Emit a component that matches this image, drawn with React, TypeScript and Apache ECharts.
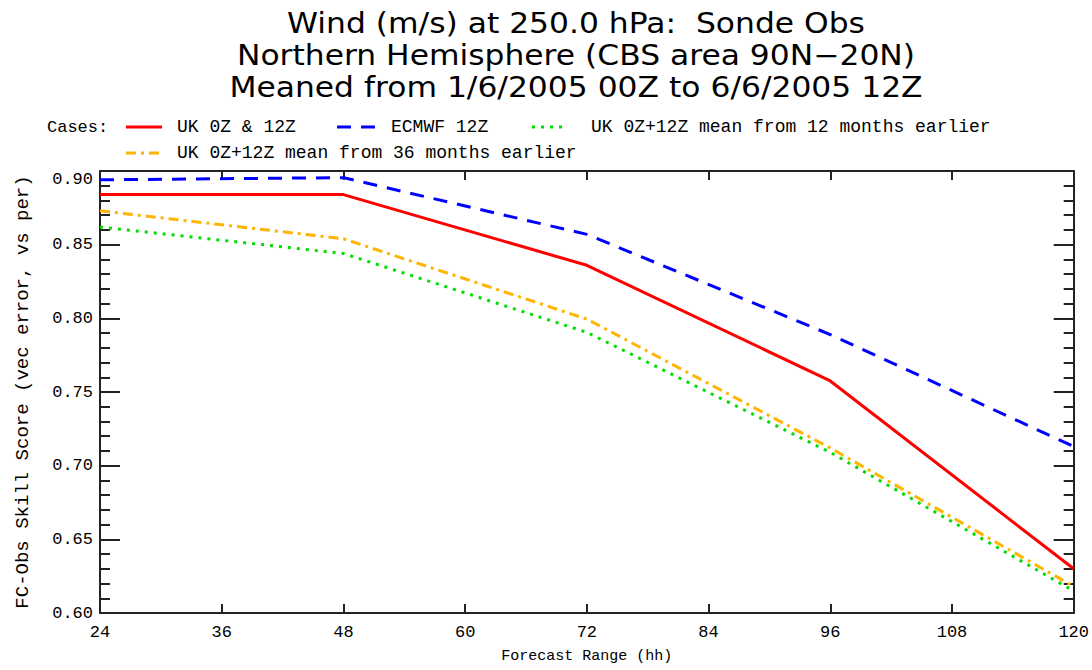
import React, { useEffect, useRef } from "react";
import * as echarts from "echarts";

const forecastHours = [24, 48, 72, 96, 120];
const ukOper = [0.884, 0.884, 0.836, 0.7575, 0.63];
const ecmwf = [0.894, 0.8955, 0.857, 0.789, 0.713];
const uk12MonthsEarlier = [0.862, 0.844, 0.7905, 0.709, 0.615];
const uk36MonthsEarlier = [0.873, 0.854, 0.7995, 0.712, 0.618];

const seriesNames = [
  "UK 0Z & 12Z",
  "ECMWF 12Z",
  "UK 0Z+12Z mean from 12 months earlier",
  "UK 0Z+12Z mean from 36 months earlier",
];
const seriesValues = [ukOper, ecmwf, uk12MonthsEarlier, uk36MonthsEarlier];
const seriesColors = ["#ff0000", "#0000ff", "#00dd00", "#ffb400"];
const seriesDashes: (number[] | "solid")[] = ["solid", [14, 10], [3, 6], [10, 5, 3, 5]];

const titleLines = [
  "Wind (m/s) at 250.0 hPa:  Sonde Obs",
  "Northern Hemisphere (CBS area 90N\u221220N)",
  "Meaned from 1/6/2005 00Z to 6/6/2005 12Z",
];

const MONO = "'Liberation Mono', 'DejaVu Sans Mono', monospace";
const SANS = "'DejaVu Sans', 'Liberation Sans', sans-serif";

// layout positions only
const titleY = [23, 55, 87];
const legendSample = [
  { x1: 126, x2: 162, y: 127, tx: 177 },
  { x1: 337, x2: 375, y: 127, tx: 391 },
  { x1: 532, x2: 566, y: 127, tx: 591 },
  { x1: 126, x2: 162, y: 153, tx: 177 },
];

export default function App() {
  const ref = useRef<HTMLDivElement>(null);
  useEffect(() => {
    if (!ref.current) return;
    const chart = echarts.init(ref.current, undefined, { renderer: "svg" });
    const axisLine = { show: true, lineStyle: { color: "#222", width: 2 } };
    const graphics: any[] = titleLines.map((t, i) => ({
      type: "text",
      x: 576,
      y: titleY[i],
      scaleX: 1.12,
      style: {
        text: t,
        x: 0,
        y: 0,
        textAlign: "center",
        textVerticalAlign: "middle",
        font: `normal 28px ${SANS}`,
        fill: "#000",
      },
    }));
    graphics.push({
      type: "text",
      style: {
        text: "Cases:",
        x: 47,
        y: 127,
        textVerticalAlign: "middle",
        font: `normal 17px ${MONO}`,
        fill: "#000",
      },
    });
    seriesNames.forEach((name, i) => {
      const p = legendSample[i];
      graphics.push({
        type: "line",
        shape: { x1: p.x1, y1: p.y, x2: p.x2, y2: p.y },
        style: {
          stroke: seriesColors[i],
          lineWidth: 3,
          lineDash: seriesDashes[i] === "solid" ? null : seriesDashes[i],
        },
      });
      graphics.push({
        type: "text",
        style: {
          text: name,
          x: p.tx,
          y: p.y,
          textVerticalAlign: "middle",
          font: `normal 18px ${MONO}`,
          fill: "#000",
        },
      });
    });

    const tickStyle = { color: "#222", width: 2 };
    const option: any = {
      animation: false,
      backgroundColor: "#fff",
      grid: { left: 100, right: 16, top: 171, bottom: 57 },
      graphic: graphics,
      xAxis: [
        {
          type: "value",
          min: 24,
          max: 120,
          interval: 12,
          position: "bottom",
          axisLine,
          axisTick: { show: true, inside: true, length: 9, lineStyle: tickStyle },
          axisLabel: { color: "#000", fontFamily: MONO, fontSize: 17, margin: 11 },
          splitLine: { show: false },
          name: "Forecast Range (hh)",
          nameLocation: "middle",
          nameGap: 36,
          nameTextStyle: { color: "#000", fontFamily: MONO, fontSize: 15 },
        },
        {
          type: "value",
          min: 24,
          max: 120,
          interval: 12,
          position: "top",
          axisLine,
          axisTick: { show: true, inside: true, length: 9, lineStyle: tickStyle },
          axisLabel: { show: false },
          splitLine: { show: false },
        },
      ],
      yAxis: [
        {
          type: "value",
          min: 0.6,
          max: 0.9,
          interval: 0.05,
          position: "left",
          axisLine,
          axisTick: { show: true, inside: true, length: 20, lineStyle: tickStyle },
          minorTick: { show: true, splitNumber: 5, length: 10, lineStyle: tickStyle },
          axisLabel: {
            color: "#000",
            fontFamily: MONO,
            fontSize: 17,
            margin: 7,
            formatter: (v: number) => v.toFixed(2),
            verticalAlignMaxLabel: "top",
          },
          splitLine: { show: false },
          minorSplitLine: { show: false },
          name: "FC-Obs Skill Score (vec error, vs per)",
          nameLocation: "middle",
          nameGap: 68,
          nameTextStyle: { color: "#000", fontFamily: MONO, fontSize: 19 },
        },
        {
          type: "value",
          min: 0.6,
          max: 0.9,
          interval: 0.05,
          position: "right",
          axisLine,
          axisTick: { show: true, inside: true, length: 20, lineStyle: tickStyle },
          minorTick: { show: true, splitNumber: 5, length: 10, lineStyle: tickStyle },
          axisLabel: { show: false },
          splitLine: { show: false },
          minorSplitLine: { show: false },
        },
      ],
      series: seriesNames.map((name, i) => ({
        name,
        type: "line",
        xAxisIndex: 0,
        yAxisIndex: 0,
        data: forecastHours.map((h, j) => [h, seriesValues[i][j]]),
        showSymbol: false,
        symbol: "none",
        lineStyle: {
          color: seriesColors[i],
          width: 3,
          type: seriesDashes[i],
        },
        z: 3 + i,
      })),
    };
    chart.setOption(option);
    return () => chart.dispose();
  }, []);
  return (
    <div
      ref={ref}
      style={{ position: "absolute", left: 0, top: 0, width: 1092, height: 670 }}
    />
  );
}
